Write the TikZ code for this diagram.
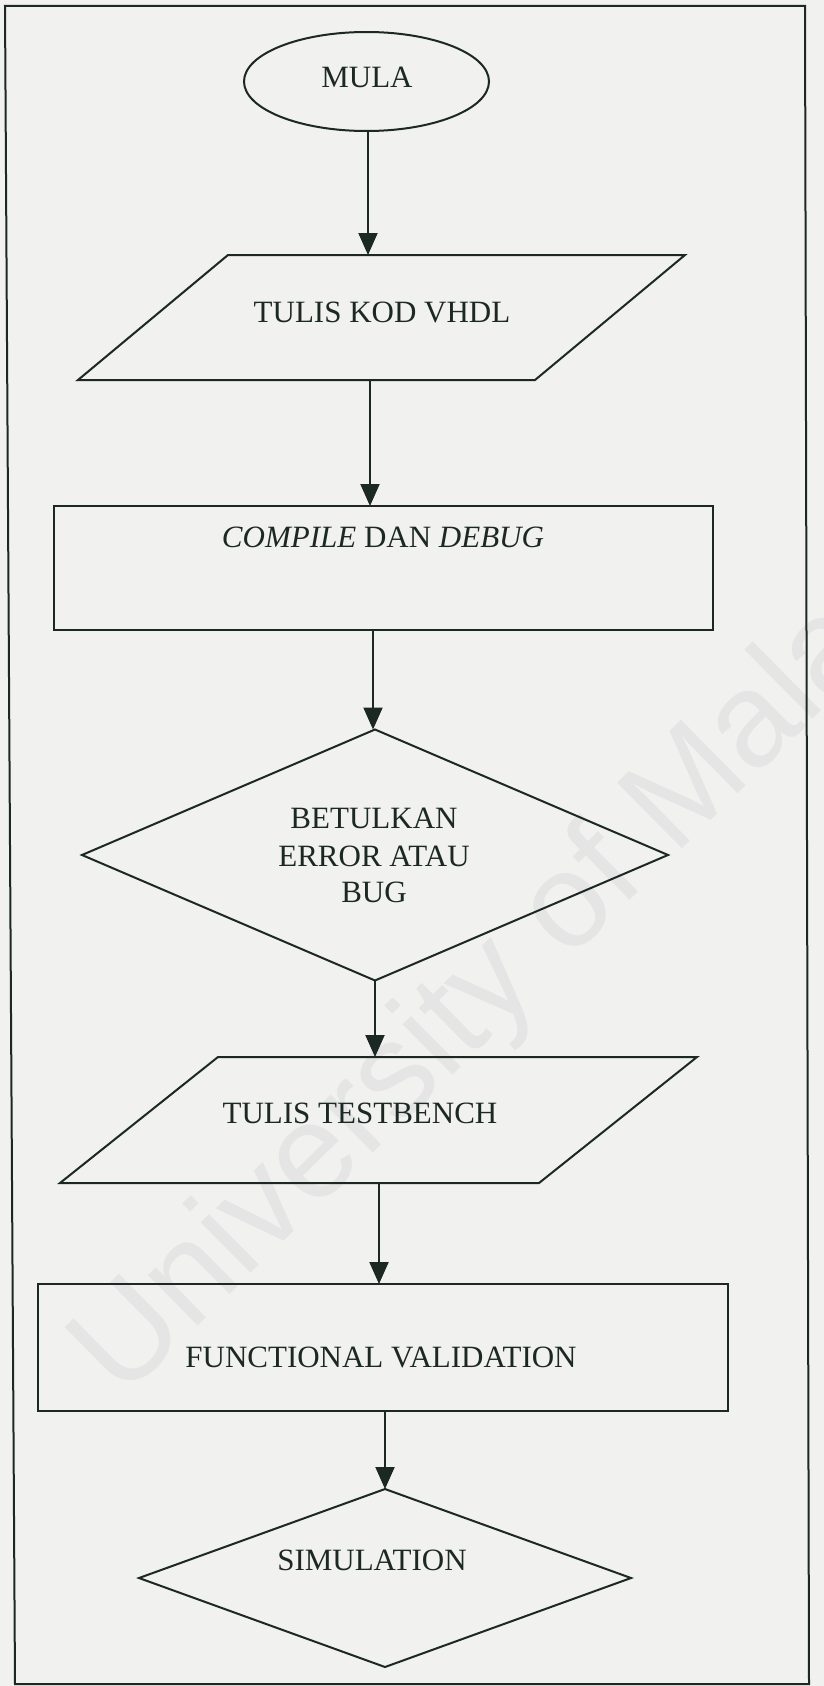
\documentclass[tikz,border=0pt]{standalone}
\usepackage{fontspec}
\setmainfont{Liberation Serif}
\newfontfamily\wmfont{Liberation Sans}
\usetikzlibrary{shapes.geometric,arrows.meta}
\definecolor{ink}{RGB}{28,40,36}
\definecolor{paper}{RGB}{241,241,239}
\definecolor{wm}{RGB}{229,229,229}
\begin{document}
\begin{tikzpicture}[x=1pt,y=-1pt,
  shp/.style={draw=ink, line width=2pt, inner sep=0pt, outer sep=0pt},
  txt/.style={inner sep=0pt, anchor=base, font=\fontsize{31}{37}\selectfont, text=ink},
  arr/.style={draw=ink, line width=2pt, -{Triangle[length=22pt,width=19pt]}}]
\useasboundingbox (0,0) rectangle (824,1686);
\fill[paper] (0,0) rectangle (824,1686);
\clip (0,0) rectangle (824,1686);
\node[rotate=44.6, text=wm, font=\wmfont\fontsize{134}{134}\selectfont, inner sep=0pt] (wmark) at (528,952) {University of Malaya};
\draw[ink, line width=2pt] (5,6) -- (805,6) -- (809,1684) -- (15,1684) -- cycle;
% shapes
\node[shp, ellipse, minimum width=245pt, minimum height=99pt] (mula) at (366.5,81.5) {};
% parallelogram 1
\coordinate (kodTL) at (228,255);
\coordinate (kodTR) at (685,255);
\coordinate (kodBR) at (535,380);
\coordinate (kodBL) at (78,380);
\draw[shp, line join=miter] (kodTL) -- (kodTR) -- (kodBR) -- (kodBL) -- cycle;
\coordinate (kodN) at (368,255);
\coordinate (kodS) at (370,380);
\node[shp, rectangle, minimum width=659pt, minimum height=124pt] (comp) at (383.5,568) {};
\node[shp, diamond, minimum width=586pt, minimum height=251pt] (betul) at (375,855) {};
% parallelogram 2
\coordinate (tbTL) at (218,1057);
\coordinate (tbTR) at (697,1057);
\coordinate (tbBR) at (539,1183);
\coordinate (tbBL) at (60,1183);
\draw[shp, line join=miter] (tbTL) -- (tbTR) -- (tbBR) -- (tbBL) -- cycle;
\coordinate (tbN) at (375,1057);
\coordinate (tbS) at (379,1183);
\node[shp, rectangle, minimum width=690pt, minimum height=127pt] (func) at (383,1347.5) {};
\node[shp, diamond, minimum width=492pt, minimum height=178pt] (sim) at (385,1578) {};
% texts
\node[txt] (mulat) at (367,87) {MULA};
\node[txt] (kodt) at (382,322) {TULIS KOD VHDL};
\node[txt] (compt) at (383,547) {\textit{COMPILE} DAN \textit{DEBUG}};
\node[txt] (b1) at (374,828) {BETULKAN};
\node[txt] (b2) at (374,866) {ERROR ATAU};
\node[txt] (b3) at (374,902) {BUG};
\node[txt] (tbt) at (360,1123) {TULIS TESTBENCH};
\node[txt] (funct) at (381,1367) {FUNCTIONAL VALIDATION};
\node[txt] (simt) at (372,1570) {SIMULATION};
% connectors
\coordinate (c3) at (373,0);
\coordinate (c6) at (385,0);
\draw[arr] (mula.south -| kodN) -- (kodN);
\draw[arr] (kodS) -- (comp.north -| kodS);
\draw[arr] (comp.south -| c3) -- (betul.north -| c3);
\draw[arr] (betul.south) -- (tbN);
\draw[arr] (tbS) -- (func.north -| tbS);
\draw[arr] (func.south -| c6) -- (sim.north);
\end{tikzpicture}
\end{document}
